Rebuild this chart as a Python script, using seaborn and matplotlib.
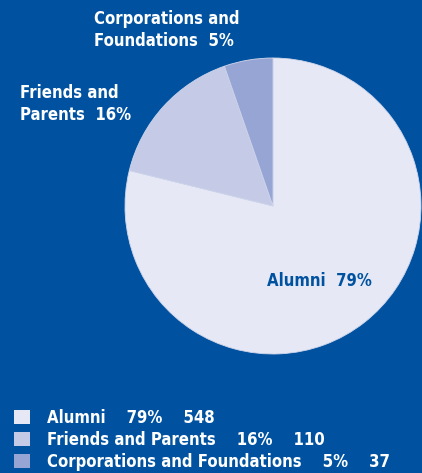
import matplotlib.pyplot as plt
import matplotlib.patches as mpatches
import seaborn as sns

categories = ['Alumni', 'Friends and Parents', 'Corporations and Foundations']
counts = [548, 110, 37]
percents = [79, 16, 5]
slice_labels = ['Alumni  79%', 'Friends and\nParents  16%', 'Corporations and\nFoundations  5%']

bg = '#0052a0'
colors = ['#e6e9f5', '#c5cbe6', '#96a5d3']

sns.set_theme(style='white')
plt.rcParams['font.family'] = ['DejaVu Sans']
plt.rcParams['font.stretch'] = 'condensed'
plt.rcParams['font.weight'] = 'bold'

fig = plt.figure(figsize=(4.22, 4.73), dpi=100, facecolor=bg)
ax = fig.add_axes([0.2962, 0.2516, 0.7014, 0.6258])
ax.set_facecolor(bg)
ax.pie(counts, colors=colors, startangle=90, counterclock=False,
       wedgeprops=dict(linewidth=0.6, edgecolor='#d0d6ec'))
ax.set_xlim(-1, 1)
ax.set_ylim(-1, 1)
ax.axis('off')

W, H = 422, 473
fs = 12
fig.text(94 / W, 1 - 10 / H, slice_labels[2], color='white', fontsize=fs,
         ha='left', va='top', linespacing=1.28)
fig.text(20 / W, 1 - 84 / H, slice_labels[1], color='white', fontsize=fs,
         ha='left', va='top', linespacing=1.28)
fig.text(267 / W, 1 - 281 / H, slice_labels[0], color=bg, fontsize=fs,
         ha='left', va='center')

handles = [mpatches.Patch(facecolor=c, edgecolor='none') for c in colors]
leg_labels = [f'{n}    {p}%    {v}' for n, p, v in zip(categories, percents, counts)]
leg = fig.legend(handles, leg_labels, loc='upper left',
                 bbox_to_anchor=(14 / W, 1 - 409 / H), frameon=False,
                 fontsize=fs, handlelength=0.96, handleheight=0.9,
                 handletextpad=1.0, labelspacing=0.24, borderpad=0,
                 borderaxespad=0)
for t in leg.get_texts():
    t.set_color('white')

fig.savefig('out.png', dpi=100, facecolor=bg)
